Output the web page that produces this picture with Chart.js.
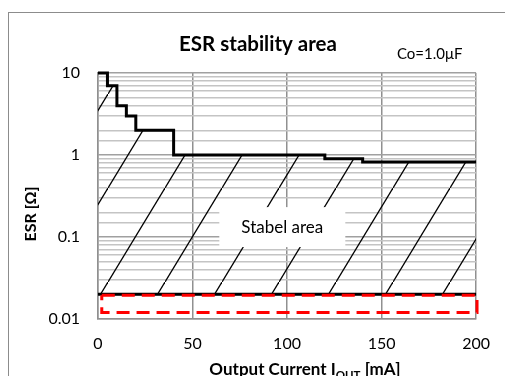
<!DOCTYPE html>
<html>
<head>
<meta charset="utf-8">
<script src="https://cdn.jsdelivr.net/npm/chart.js@4.4.0/dist/chart.umd.min.js"></script>
<style>
    body { margin: 0; width: 505px; height: 376px; overflow: hidden; background: #fff; position: relative; }
    #frame { position: absolute; left: 8px; top: 12px; width: 600px; height: 500px; border: 1px solid #8c8c8c; }
    #esrChart { position: absolute; left: 0; top: 0; }
</style>
</head>
<body>
<div id="frame"></div>
<canvas id="esrChart" width="505" height="376"></canvas>
<script>
// upper ESR limit of the stable region (stepped)
const boundaryCurrent = [0, 5, 10, 15, 20, 40, 120, 140, 200];
const boundaryEsr = [10, 7, 4, 3, 2, 1, 0.9, 0.82, 0.82];

// lower ESR limit
const lowerCurrent = [0, 200];
const lowerEsr = [0.02, 0.02];

// red dashed box below the lower limit
const boxCurrent = [2, 200.5, 200.5, 2, 2];
const boxEsr = [0.0195, 0.0195, 0.012, 0.012, 0.0195];

const xTicks = [0, 50, 100, 150, 200];
const yLabels = [0.01, 0.1, 1, 10];

const FONT = "Lato, 'Noto Sans', sans-serif";

function toPoints(xs, ys) {
    return xs.map((x, i) => ({ x: x, y: ys[i] }));
}

function isMajor(v) {
    const l = Math.log10(v);
    return Math.abs(l - Math.round(l)) < 1e-6;
}

const ctx = document.getElementById("esrChart").getContext("2d");

// diagonal hatch for the stable area
function makeHatch() {
    const w = 57, h = 94;
    const c = document.createElement("canvas");
    c.width = w;
    c.height = h;
    const g = c.getContext("2d");
    g.strokeStyle = "#000";
    g.lineWidth = 1.3;
    g.beginPath();
    g.moveTo(-w, 2 * h);
    g.lineTo(2 * w, -h);
    g.stroke();
    const p = ctx.createPattern(c, "repeat");
    p.setTransform(new DOMMatrix().translate(-6, 0));
    return p;
}

const textPlugin = {
    id: "texts",
    afterDatasetsDraw(chart) {
        const c = chart.ctx;
        const xs = chart.scales.x, ys = chart.scales.y;
        const cx = xs.getPixelForValue(97.5);
        const cy = ys.getPixelForValue(0.132);
        c.save();
        c.fillStyle = "#fff";
        c.fillRect(cx - 63, cy - 20, 126, 40);
        c.fillStyle = "#000";
        c.font = "17px " + FONT;
        c.textAlign = "center";
        c.textBaseline = "middle";
        c.fillText("Stabel area", cx, cy);
        c.restore();
    },
    afterDraw(chart) {
        const c = chart.ctx;
        c.save();
        c.fillStyle = "#000";
        c.textBaseline = "middle";

        c.font = "bold 20.5px " + FONT;
        c.textAlign = "center";
        c.fillText("ESR stability area", 258, 44);

        c.font = "15px " + FONT;
        c.textAlign = "left";
        c.fillText("Co=1.0\u03bcF", 397, 54);

        // y title
        c.save();
        c.translate(31, 214);
        c.rotate(-Math.PI / 2);
        c.font = "bold 16px " + FONT;
        c.textAlign = "center";
        c.fillText("ESR [\u03a9]", 0, 0);
        c.restore();

        // x title with subscript
        c.textBaseline = "alphabetic";
        c.textAlign = "left";
        const big = "bold 17px " + FONT, small = "bold 11.5px " + FONT;
        const parts = [["Output Current I", big, 0], ["OUT", small, 4], [" [mA]", big, 0]];
        let total = 0;
        parts.forEach(p => { c.font = p[1]; total += c.measureText(p[0]).width; });
        let x = 305 - total / 2;
        parts.forEach(p => {
            c.font = p[1];
            c.fillText(p[0], x, 375 + p[2]);
            x += c.measureText(p[0]).width;
        });
        c.restore();
    }
};

new Chart(ctx, {
    type: "line",
    data: {
        datasets: [
            {
                data: toPoints(boxCurrent, boxEsr),
                borderColor: "#ff0000",
                borderWidth: 3,
                borderDash: [13, 7],
                pointRadius: 0,
                fill: false,
                clip: false
            },
            {
                data: toPoints(boundaryCurrent, boundaryEsr),
                borderColor: "#000",
                borderWidth: 3,
                stepped: "before",
                pointRadius: 0,
                fill: "+1",
                backgroundColor: makeHatch(),
                clip: 4
            },
            {
                data: toPoints(lowerCurrent, lowerEsr),
                borderColor: "#000",
                borderWidth: 3,
                pointRadius: 0,
                fill: false,
                clip: 4
            }
        ]
    },
    options: {
        responsive: false,
        animation: false,
        devicePixelRatio: 1,
        layout: { padding: { left: 0, right: 24, top: 73, bottom: 0 } },
        plugins: {
            legend: { display: false },
            tooltip: { enabled: false },
            title: { display: false }
        },
        scales: {
            x: {
                type: "linear",
                min: 0,
                max: 200,
                afterBuildTicks: axis => { axis.ticks = xTicks.map(v => ({ value: v })); },
                afterFit: axis => { axis.height = 57; },
                grid: { color: "#909090", drawTicks: false, lineWidth: 1.5 },
                border: { display: true, color: "#909090", width: 1.5 },
                ticks: { padding: 15, color: "#000", font: { family: FONT, size: 16 } }
            },
            y: {
                type: "logarithmic",
                min: 0.01,
                max: 10,
                afterFit: axis => { axis.width = 98; },
                grid: {
                    color: c => isMajor(c.tick.value) ? "#a0a0a0" : "#c4c4c4",
                    drawTicks: false,
                    lineWidth: 1.5
                },
                border: { display: true, color: "#909090", width: 1.5 },
                ticks: {
                    autoSkip: false,
                    padding: 18,
                    color: "#000",
                    font: { family: FONT, size: 16 },
                    callback: v => yLabels.some(l => Math.abs(l - v) < l * 1e-6) ? String(v) : ""
                }
            }
        }
    },
    plugins: [textPlugin]
});
</script>
</body>
</html>
